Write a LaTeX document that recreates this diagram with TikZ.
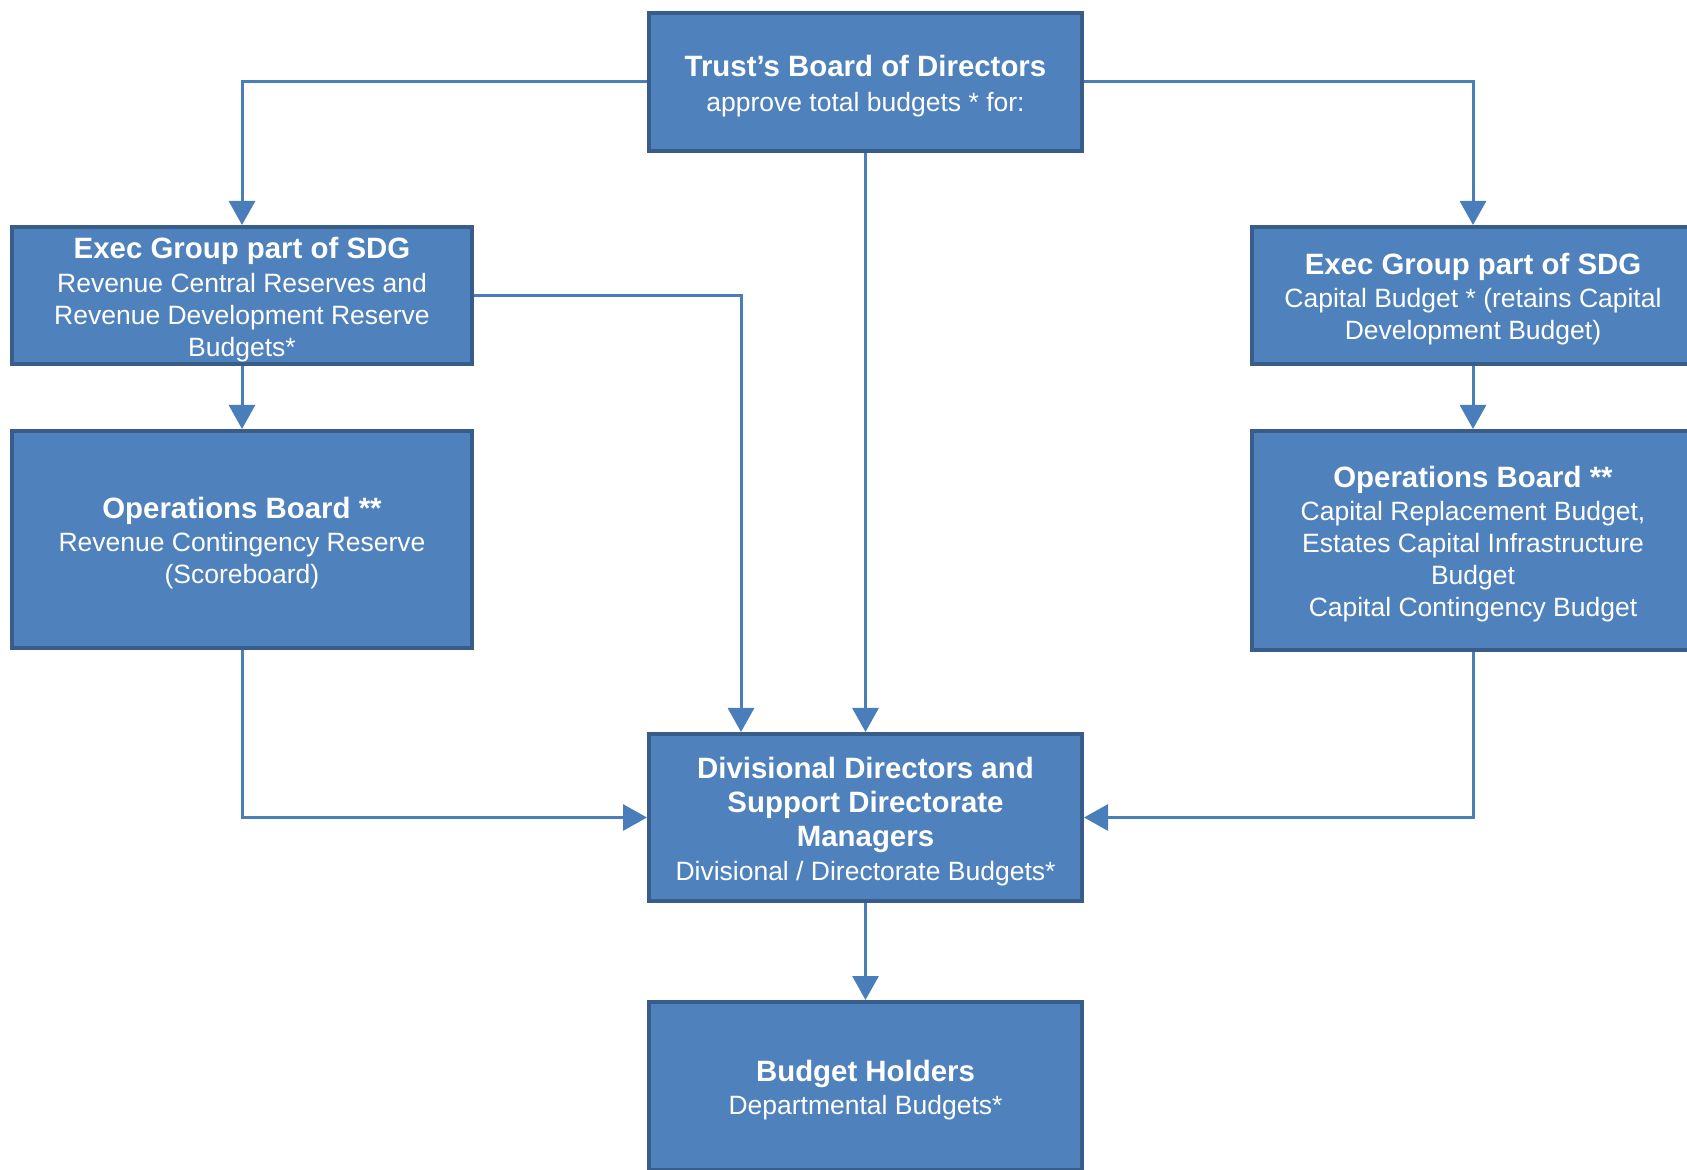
\documentclass[tikz,border=0pt]{standalone}
\usepackage{fontspec}
\setmainfont{Liberation Sans}
\usetikzlibrary{arrows.meta}
\definecolor{boxfill}{HTML}{4F81BD}
\definecolor{boxline}{HTML}{385D8A}
\definecolor{connline}{HTML}{4A7EBB}
\newcommand\hdline[1]{{\bfseries\fontsize{14.7}{17.5}\selectfont #1}}
\newcommand\tstrut{\rule{0pt}{14.5pt}}
\begin{document}
\begin{tikzpicture}[x=0.5pt,y=-0.5pt,
  box/.style={draw=boxline, line width=2pt, fill=boxfill, text=white, align=center,
    font=\fontsize{13.25}{16}\selectfont, inner sep=0pt},
  conn/.style={draw=connline, line width=1.5pt, -{Triangle[length=12pt,width=13pt]}}]
\useasboundingbox (0,0) rectangle (1687,1170);
\clip (0,0) rectangle (1687,1170);

\node[box, minimum width=216.5pt, minimum height=69pt] (top) at (865.5,82)
  {\tstrut\hdline{Trust’s Board of Directors}\\[1.6pt]approve total budgets * for:};
\node[box, minimum width=230pt, minimum height=68.5pt] (lexec) at (242,295.5)
  {\tstrut\hdline{Exec Group part of SDG}\\[0.9pt]Revenue Central Reserves and\\Revenue Development Reserve\\Budgets*};
\node[box, minimum width=230pt, minimum height=108.5pt] (lops) at (242,539.5)
  {\tstrut\hdline{Operations Board **}\\[0.7pt]Revenue Contingency Reserve\\(Scoreboard)};
\node[box, minimum width=221pt, minimum height=68.5pt] (rexec) at (1473,295.5)
  {\tstrut\hdline{Exec Group part of SDG}\\[0.7pt]Capital Budget * (retains Capital\\Development Budget)};
\node[box, minimum width=221pt, minimum height=109.5pt] (rops) at (1473,540.5)
  {\tstrut\hdline{Operations Board **}\\[0.7pt]Capital Replacement Budget,\\Estates Capital Infrastructure\\Budget\\Capital Contingency Budget};
\node[box, minimum width=216.5pt, minimum height=83.5pt] (div) at (865.5,817.5)
  {\tstrut\hdline{Divisional Directors and}\\[1.2pt]\hdline{Support Directorate}\\[1.2pt]\hdline{Managers}\\[0.7pt]Divisional / Directorate Budgets*};
\node[box, minimum width=216.5pt, minimum height=84.2pt] (bh) at (865.5,1086.2)
  {\tstrut\hdline{Budget Holders}\\[0.7pt]Departmental Budgets*};

\draw[conn] (top.west) -| (lexec.north);
\draw[conn] (top.east) -| (rexec.north);
\draw[conn] (top.south) -- (div.north);
\draw[conn] (lexec.east) -| ([xshift=-62.25pt]div.north);
\draw[conn] (lexec.south) -- (lops.north);
\draw[conn] (rexec.south) -- (rops.north);
\draw[conn] (lops.south) |- (div.west);
\draw[conn] (rops.south) |- (div.east);
\draw[conn] (div.south) -- (bh.north);
\end{tikzpicture}
\end{document}
